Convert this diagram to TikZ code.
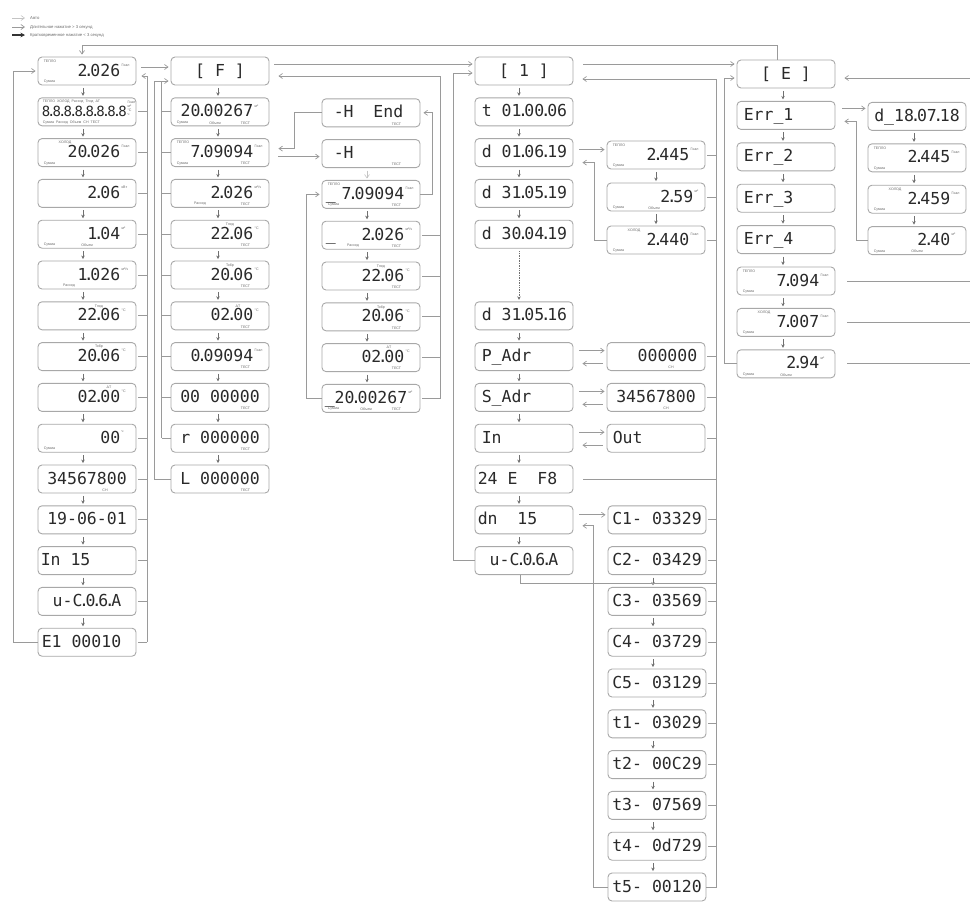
\documentclass[tikz,border=0pt]{standalone}
\usepackage{fontspec}
\usetikzlibrary{arrows.meta}
\newfontfamily\lcdfont{DejaVu Sans Mono}
\newfontfamily\smallfont{Liberation Sans}
\definecolor{boxgray}{HTML}{A8A8A8}
\definecolor{linegray}{HTML}{9A9A9A}
\definecolor{tipgray}{HTML}{707070}
\definecolor{lightline}{HTML}{C4C4C4}
\definecolor{txtdark}{HTML}{2A2A2A}
\definecolor{txtsmall}{HTML}{6A6A6A}
\newcommand\lcddot{\makebox[0.18em][c]{.}}
\newcommand\dispR[3]{\node[dig,anchor=base east] (#1-t) at ([shift={(#2,5)}]#1.east) {#3};}
\newcommand\dispL[3]{\node[dig,anchor=base west] (#1-t) at ([shift={(#2,5)}]#1.west) {#3};}
\newcommand\dispC[2]{\node[dig,anchor=base] (#1-t) at ([shift={(0,5)}]#1.center) {#2};}
\newcommand\labTL[2]{\node[tiny,anchor=north west] (#1-tl) at ([shift={(6,3)}]#1.north west) {#2};}
\newcommand\labTM[3]{\node[tiny,anchor=north] (#1-tm) at ([shift={(#2,3)}]#1.north) {#3};}
\newcommand\labBL[2]{\node[tiny,anchor=south west] (#1-bl) at ([shift={(6,-2)}]#1.south west) {#2};}
\newcommand\labBM[3]{\node[tiny,anchor=south] (#1-bm) at ([shift={(#2,-2)}]#1.south) {#3};}
\newcommand\labBR[2]{\node[tiny,anchor=south] (#1-br) at ([shift={(-24,-2)}]#1.south east) {#2};}
\newcommand\labUN[2]{\node[tiny,anchor=north west] (#1-un) at ([shift={(1,0)}]#1-t.north east) {#2};}
\tikzset{
 lcdbox/.style={draw=boxgray, fill=white, line width=0.9pt, rounded corners=4pt, minimum width=98pt, minimum height=28pt, inner sep=0pt},
 dig/.style={font=\lcdfont\fontsize{16.5}{16.5}\selectfont, text=txtdark, inner sep=0pt},
 tiny/.style={font=\smallfont\fontsize{3.6}{4}\selectfont, text=txtsmall, inner sep=0pt},
 conn/.style={draw=linegray, line width=0.7pt},
 stub/.style={conn, shorten <=2pt},
 arr/.style={conn, -{Straight Barb[length=3.5pt,width=5pt]}, shorten >=2pt},
 arrR/.style={conn, -{Straight Barb[length=3.5pt,width=5pt]}, shorten >=9pt},
 darr/.style={draw=tipgray, line width=0.7pt, -{Stealth[length=3.5pt,width=3.5pt]}, shorten >=1.5pt, shorten <=2.5pt},
 autoarr/.style={draw=lightline, line width=0.6pt, -{Straight Barb[length=3.5pt,width=5pt]}},
 shortarr/.style={draw=black!80, line width=1.1pt, -{Stealth[length=4.5pt,width=4.5pt]}},
 legtxt/.style={font=\smallfont\fontsize{4.2}{5}\selectfont, text=txtsmall, anchor=west, inner sep=0pt},
}
\begin{document}
\begin{tikzpicture}[x=1pt,y=-1pt]
\useasboundingbox (0,0) rectangle (970,903);
% ---------- legend
\coordinate (lg1a) at (12,18); \coordinate (lg1b) at (25,18);
\coordinate (lg2a) at (12,27); \coordinate (lg2b) at (25,27);
\coordinate (lg3a) at (12,35); \coordinate (lg3b) at (25,35);
\draw[autoarr] (lg1a) -- (lg1b);
\draw[conn,-{Straight Barb[length=3.5pt,width=5pt]}] (lg2a) -- (lg2b);
\draw[shortarr] (lg3a) -- (lg3b);
\node[legtxt] (lg1) at (30,18) {Авто};
\node[legtxt] (lg2) at (30,27) {Длительное нажатие > 3 секунд};
\node[legtxt] (lg3) at (30,35) {Кратковременное нажатие < 3 секунд};
% ---------- boxes
\foreach \i in {0,...,14} \node[lcdbox] (a\i) at (87,{71+40.8*\i}) {};
\foreach \i in {0,...,10} \node[lcdbox] (b\i) at (220,{71+40.8*\i}) {};
\foreach \i in {1,...,8} \node[lcdbox] (h\i) at (371,{72+40.8*\i}) {};
\foreach \i in {0,1,2,3,4,6,7,8,9,10,11,12} \node[lcdbox] (d\i) at (524,{71+40.8*\i}) {};
\node[lcdbox] (p2) at (656,155) {};
\node[lcdbox] (p3) at (656,197) {};
\node[lcdbox] (p4) at (656,240) {};
\foreach \i in {7,8,9} \node[lcdbox] (p\i) at (656,{71+40.8*\i}) {};
\foreach \i in {11,...,20} \node[lcdbox] (k\i) at (657,{71+40.8*\i}) {};
\foreach \i in {0,...,7} \node[lcdbox] (e\i) at (786,{74+41.4*\i}) {};
\foreach \i in {1,...,4} \node[lcdbox] (f\i) at (917,{75+41.4*\i}) {};
% ---------- column 1 texts
\dispR{a0}{-16}{2\lcddot 026}\labUN{a0}{Гкал}\labTL{a0}{ТЕПЛО}\labBL{a0}{Сумма}
\node[dig,anchor=base west,font=\lcdfont\fontsize{14}{14}\selectfont] (a1-t) at ([shift={(4,5)}]a1.west) {8\lcddot 8\lcddot 8\lcddot 8\lcddot 8\lcddot 8\lcddot 8\lcddot 8};
\node[tiny,anchor=north west] (a1-tl) at ([shift={(5,2)}]a1.north west) {ТЕПЛО~~ХОЛОД~~Расход~~Тпод~~ΔT};
\node[tiny,anchor=south west] (a1-bl) at ([shift={(5,-1.5)}]a1.south west) {Сумма~~Расход~~Объем~~СН~~ТЕСТ};
\node[tiny,anchor=north east,align=left] (a1-un) at ([shift={(-1,3)}]a1.north east) {Гкал\\м³\\°C\\ч};
\dispR{a2}{-16}{20\lcddot 026}\labUN{a2}{Гкал}\labTM{a2}{-22}{ХОЛОД}\labBL{a2}{Сумма}
\dispR{a3}{-16}{2\lcddot 06}\labUN{a3}{кВт}
\dispR{a4}{-16}{1\lcddot 04}\labUN{a4}{м³}\labBL{a4}{Сумма}\labBM{a4}{0}{Объем}
\dispR{a5}{-16}{1\lcddot 026}\labUN{a5}{м³/ч}\labBM{a5}{-18}{Расход}
\dispR{a6}{-16}{22\lcddot 06}\labUN{a6}{°C}\labTM{a6}{12}{Тпод}
\dispR{a7}{-16}{20\lcddot 06}\labUN{a7}{°C}\labTM{a7}{12}{Тобр}
\dispR{a8}{-16}{02\lcddot 00}\labUN{a8}{°C}\labTM{a8}{22}{ΔT}
\dispR{a9}{-16}{00}\labUN{a9}{ч}\labBL{a9}{Сумма}
\dispC{a10}{34567800}\labBM{a10}{18}{СН}
\dispC{a11}{19-06-01}
\dispL{a12}{3}{In~15}
\dispC{a13}{u-C\lcddot 0\lcddot 6\lcddot A}
\dispL{a14}{4}{E1~00010}
% ---------- column 2 texts
\dispC{b0}{[~F~]}
\dispR{b1}{-16}{20\lcddot 00267}\labUN{b1}{м³}\labBL{b1}{Сумма}\labBM{b1}{-5}{Объем}\labBR{b1}{ТЕСТ}
\dispR{b2}{-16}{7\lcddot 09094}\labUN{b2}{Гкал}\labTL{b2}{ТЕПЛО}\labBL{b2}{Сумма}\labBR{b2}{ТЕСТ}
\dispR{b3}{-16}{2\lcddot 026}\labUN{b3}{м³/ч}\labBM{b3}{-20}{Расход}\labBR{b3}{ТЕСТ}
\dispR{b4}{-16}{22\lcddot 06}\labUN{b4}{°C}\labTM{b4}{10}{Тпод}\labBR{b4}{ТЕСТ}
\dispR{b5}{-16}{20\lcddot 06}\labUN{b5}{°C}\labTM{b5}{10}{Тобр}\labBR{b5}{ТЕСТ}
\dispR{b6}{-16}{02\lcddot 00}\labUN{b6}{°C}\labTM{b6}{18}{ΔT}\labBR{b6}{ТЕСТ}
\dispR{b7}{-16}{0\lcddot 09094}\labUN{b7}{Гкал}\labBR{b7}{ТЕСТ}
\dispC{b8}{00~00000}\labBR{b8}{ТЕСТ}
\dispC{b9}{r~000000}\labBR{b9}{ТЕСТ}
\dispC{b10}{L~000000}\labBR{b10}{ТЕСТ}
% ---------- column 3 texts
\dispL{h1}{12}{-H~~End}\labBR{h1}{ТЕСТ}
\dispL{h2}{12}{-H}\labBR{h2}{ТЕСТ}
\dispR{h3}{-16}{7\lcddot 09094}\labUN{h3}{Гкал}\labTL{h3}{ТЕПЛО}\labBL{h3}{Сумма}\labBR{h3}{ТЕСТ}
\node[dig,anchor=base west] (h3-u) at ([shift={(4,5)}]h3.west) {\_};
\dispR{h4}{-16}{2\lcddot 026}\labUN{h4}{м³/ч}\labBM{h4}{-18}{Расход}\labBR{h4}{ТЕСТ}
\node[dig,anchor=base west] (h4-u) at ([shift={(4,5)}]h4.west) {\_};
\dispR{h5}{-16}{22\lcddot 06}\labUN{h5}{°C}\labTM{h5}{10}{Тпод}\labBR{h5}{ТЕСТ}
\dispR{h6}{-16}{20\lcddot 06}\labUN{h6}{°C}\labTM{h6}{10}{Тобр}\labBR{h6}{ТЕСТ}
\dispR{h7}{-16}{02\lcddot 00}\labUN{h7}{°C}\labTM{h7}{18}{ΔT}\labBR{h7}{ТЕСТ}
\dispR{h8}{-13}{\_20\lcddot 00267}\labUN{h8}{м³}\labBL{h8}{Сумма}\labBM{h8}{-5}{Объем}\labBR{h8}{ТЕСТ}
% ---------- column 4 texts
\dispC{d0}{[~1~]}
\dispL{d1}{7}{t~01\lcddot 00\lcddot 06}
\dispL{d2}{7}{d~01\lcddot 06\lcddot 19}
\dispL{d3}{7}{d~31\lcddot 05\lcddot 19}
\dispL{d4}{7}{d~30\lcddot 04\lcddot 19}
\dispL{d6}{7}{d~31\lcddot 05\lcddot 16}
\dispL{d7}{7}{P\_Adr}
\dispL{d8}{7}{S\_Adr}
\dispL{d9}{7}{In}
\dispL{d10}{3}{24~E~~F8}
\dispL{d11}{3}{dn~~15}
\dispC{d12}{u-C\lcddot 0\lcddot 6\lcddot A}
% ---------- column 4b texts
\dispR{p2}{-16}{2\lcddot 445}\labUN{p2}{Гкал}\labTL{p2}{ТЕПЛО}\labBL{p2}{Сумма}
\dispR{p3}{-12}{2\lcddot 59}\labUN{p3}{м³}\labBL{p3}{Сумма}\labBM{p3}{-2}{Объем}
\dispR{p4}{-16}{2\lcddot 440}\labUN{p4}{Гкал}\labTM{p4}{-22}{ХОЛОД}\labBL{p4}{Сумма}
\dispR{p7}{-8}{000000}\labBM{p7}{15}{СН}
\dispC{p8}{34567800}\labBM{p8}{10}{СН}
\dispL{p9}{6}{Out}
% ---------- C/t column texts
\dispC{k11}{C1-~03329}
\dispC{k12}{C2-~03429}
\dispC{k13}{C3-~03569}
\dispC{k14}{C4-~03729}
\dispC{k15}{C5-~03129}
\dispC{k16}{t1-~03029}
\dispC{k17}{t2-~00C29}
\dispC{k18}{t3-~07569}
\dispC{k19}{t4-~0d729}
\dispC{k20}{t5-~00120}
% ---------- column 5 texts
\dispC{e0}{[~E~]}
\dispL{e1}{7}{Err\_1}
\dispL{e2}{7}{Err\_2}
\dispL{e3}{7}{Err\_3}
\dispL{e4}{7}{Err\_4}
\dispR{e5}{-16}{7\lcddot 094}\labUN{e5}{Гкал}\labTL{e5}{ТЕПЛО}\labBL{e5}{Сумма}
\dispR{e6}{-16}{7\lcddot 007}\labUN{e6}{Гкал}\labTM{e6}{-22}{ХОЛОД}\labBL{e6}{Сумма}
\dispR{e7}{-16}{2\lcddot 94}\labUN{e7}{м³}\labBL{e7}{Сумма}\labBM{e7}{0}{Объем}
\dispC{f1}{d\_18\lcddot 07\lcddot 18}
\dispR{f2}{-16}{2\lcddot 445}\labUN{f2}{Гкал}\labTL{f2}{ТЕПЛО}\labBL{f2}{Сумма}
\dispR{f3}{-16}{2\lcddot 459}\labUN{f3}{Гкал}\labTM{f3}{-22}{ХОЛОД}\labBL{f3}{Сумма}
\dispR{f4}{-16}{2\lcddot 40}\labUN{f4}{м³}\labBL{f4}{Сумма}\labBM{f4}{0}{Объем}
% ---------- down arrows
\foreach \i in {0,...,13}{\pgfmathtruncatemacro\j{\i+1}\draw[darr] ([shift={(-4,0)}]a\i.south) -- ([shift={(-4,0)}]a\j.north);}
\foreach \i in {0,...,9}{\pgfmathtruncatemacro\j{\i+1}\draw[darr] ([shift={(-2,0)}]b\i.south) -- ([shift={(-2,0)}]b\j.north);}
\draw[autoarr, shorten >=1.5pt, shorten <=2.5pt] ([shift={(-4,0)}]h2.south) -- ([shift={(-4,0)}]h3.north);
\foreach \i in {3,...,7}{\pgfmathtruncatemacro\j{\i+1}\draw[darr] ([shift={(-4,0)}]h\i.south) -- ([shift={(-4,0)}]h\j.north);}
\foreach \i in {0,1,2,3,6,7,8,9,10,11}{\pgfmathtruncatemacro\j{\i+1}\draw[darr] ([shift={(-5,0)}]d\i.south) -- ([shift={(-5,0)}]d\j.north);}
\draw[darr, densely dotted] ([shift={(-5,0)}]d4.south) -- ([shift={(-5,0)}]d6.north);
\draw[darr] (p2.south) -- (p3.north);
\draw[darr] (p3.south) -- (p4.north);
\foreach \i in {12,...,19}{\pgfmathtruncatemacro\j{\i+1}\draw[darr] ([shift={(-4,0)}]k\i.south) -- ([shift={(-4,0)}]k\j.north);}
\foreach \i in {0,...,6}{\pgfmathtruncatemacro\j{\i+1}\draw[darr] ([shift={(-3,0)}]e\i.south) -- ([shift={(-3,0)}]e\j.north);}
\foreach \i in {1,2,3}{\pgfmathtruncatemacro\j{\i+1}\draw[darr] ([shift={(-3,0)}]f\i.south) -- ([shift={(-3,0)}]f\j.north);}
% ---------- column 1 links
\draw[arr] ([shift={(-9,0)}]e0.north) |- ([shift={(-5,-11)}]a0.north) -- ([shift={(-5,0)}]a0.north);
\draw[arr] (a14.west) -- ++(-24,0) |- (a0.west);
\foreach \i in {1,...,14} \draw[stub] (a\i.east) -- ++(11,0);
\draw[conn, -{Straight Barb[length=3.5pt,width=5pt]}, shorten >=5pt] ([shift={(11,0)}]a14.east) |- ([shift={(0,5)}]a0.east);
\draw[arr, shorten <=5pt] ([shift={(0,-4)}]a0.east) -- ([shift={(0,-4)}]b0.west);
% ---------- column 2 links
\foreach \i in {1,...,9} \draw[conn] (b\i.west) -- ++(-9,0);
\draw[conn] ([shift={(-9,0)}]b9.west) -- ([shift={(-9,10)}]b0.west);
\draw[arr] (b10.west) -- ++(-16,0) |- ([shift={(0,10)}]b0.west);
\draw[arr, shorten <=5pt] ([shift={(0,-7)}]b0.east) -- ([shift={(0,-7)}]d0.west);
% ---------- column 3 links
\foreach \i in {4,...,7} \draw[stub] (h\i.east) -- ++(20,0);
\draw[arrR, shorten <=2pt] (h8.east) -- ++(20,0) |- ([shift={(0,5)}]b0.east);
\draw[arr, shorten <=9pt] ([shift={(0,4)}]b2.east) -- ([shift={(0,4)}]b2.east -| h2.west);
\draw[arrR] (h1.west) -- ++(-27,0) |- ([shift={(0,-4)}]b2.east);
\draw[arr] (h8.west) -- ++(-15,0) |- (h3.west);
\draw[conn, -{Straight Barb[length=3.5pt,width=5pt]}, shorten >=3pt] (h3.east) -- ++(12,0) |- (h1.east);
% ---------- column 4 links
\draw[arr] (d12.west) -- ++(-21,0) |- ([shift={(0,2)}]d0.west);
\coordinate (busD) at ([shift={(10,0)}]k20.east);
\draw[arrR] (k20.east) -- (busD) |- ([shift={(0,8)}]d0.east);
\foreach \n in {p2,p3,p4,p7,p8,p9,k11,k12,k13,k14,k15,k16,k17,k18,k19} \draw[stub] (\n.east) -- (\n.east -| busD);
\draw[conn, shorten <=10pt] (d10.east) -- (d10.east -| busD);
\draw[conn] ([shift={(-4,0)}]d12.south) -- ++(0,8) coordinate (ucb) -- (ucb -| busD);
\draw[arr, shorten <=10pt] ([shift={(0,-7)}]d0.east) -- ([shift={(0,-7)}]d0.east -| e0.west);
\draw[arr, shorten <=6pt] ([shift={(0,-3)}]d2.east) -- ([shift={(0,-3)}]d2.east -| p2.west);
\draw[arrR] (p4.west) -- ++(-12,0) |- ([shift={(0,10)}]d2.east);
\foreach \n/\m in {d7/p7,d8/p8,d9/p9}{
  \draw[arr, shorten <=6pt] ([shift={(0,-6)}]\n.east) -- ([shift={(0,-6)}]\n.east -| \m.west);
  \draw[arrR, shorten <=4pt] ([shift={(0,7)}]\m.west) -- ([shift={(0,7)}]\m.west -| \n.east);
}
\draw[arr, shorten <=6pt] ([shift={(0,-5)}]d11.east) -- ([shift={(0,-5)}]d11.east -| k11.west);
\draw[arrR] (k20.west) -- ++(-14,0) |- ([shift={(0,6)}]d11.east);
% ---------- column 5 links
\draw[arr] (e7.west) -- ++(-12,0) |- ([shift={(0,4)}]e0.west);
\coordinate (redge) at (970,0);
\draw[arrR] ([shift={(0,4)}]e0.east -| redge) -- ([shift={(0,4)}]e0.east);
\foreach \n in {e5,e6,e7} \draw[conn, shorten <=12pt] (\n.east) -- (\n.east -| redge);
\draw[arr, shorten <=7pt] ([shift={(0,-7)}]e1.east) -- ([shift={(0,-7)}]e1.east -| f1.west);
\draw[arrR] (f4.west) -- ++(-11,0) |- ([shift={(0,6)}]e1.east);
\end{tikzpicture}
\end{document}
